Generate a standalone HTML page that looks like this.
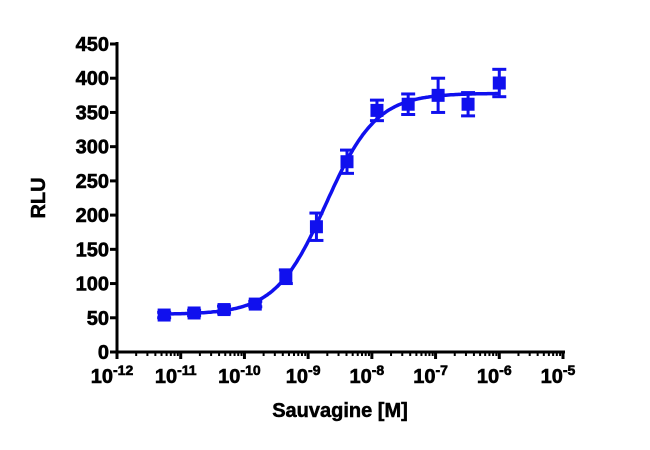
<!DOCTYPE html>
<html><head><meta charset="utf-8"><style>
body{margin:0;background:#fff}
svg{display:block;font-family:"Liberation Sans",Arial,sans-serif;font-weight:bold}
</style></head><body>
<svg id="chart" width="650" height="450" viewBox="0 0 650 450"></svg>
<script>
const logConc=[-11.26,-10.79,-10.32,-9.83,-9.35,-8.87,-8.39,-7.92,-7.43,-6.96,-6.49,-6.0];
const rlu=[54,57,62,70,110,183,278,353,362,375,362,393];
const sem=[4,4,5,4,10,20,17,15,15,25,17,20];
const fitParams=[55,378,-8.72,1.1]; // bottom, top, logEC50, hill
const yTicks=[0,50,100,150,200,250,300,350,400,450];
const xDecades=[-12,-11,-10,-9,-8,-7,-6,-5];
const NS="http://www.w3.org/2000/svg";
const svg=document.getElementById('chart');
const X0=117,X1=563,Y0=352,Y1=44;
const xs=v=>X0+(v+12)/7*(X1-X0);
const ys=v=>Y0-v/450*(Y0-Y1);
function el(t,a,p){const e=document.createElementNS(NS,t);for(const k in a)e.setAttribute(k,a[k]);(p||svg).appendChild(e);return e;}
const blue="#1010ee";
let ax=el('line',{x1:X0,y1:Y1-2,x2:X0,y2:Y0+2,stroke:'#000','stroke-width':3});

let bx=el('line',{x1:X0-2,y1:Y0,x2:X1+2,y2:Y0,stroke:'#000','stroke-width':3});

yTicks.forEach(v=>{
 el('line',{x1:X0-7,y1:ys(v),x2:X0,y2:ys(v),stroke:'#000','stroke-width':3});
 const t=el('text',{x:X0-8,y:ys(v)+7,'text-anchor':'end','font-size':20,'stroke':'#000','stroke-width':0.6});
 t.textContent=v;
 
});
xDecades.forEach((d,i)=>{
 el('line',{x1:xs(d),y1:Y0,x2:xs(d),y2:Y0+7,stroke:'#000','stroke-width':3});
 if(i<xDecades.length-1)for(let m=2;m<10;m++){const x=xs(d+Math.log10(m));el('line',{x1:x,y1:Y0,x2:x,y2:Y0+4,stroke:'#000','stroke-width':2});}
 const t=el('text',{x:xs(d)-5,y:Y0+31,'text-anchor':'middle','font-size':20,'stroke':'#000','stroke-width':0.6});
 t.innerHTML='10<tspan dy="-8" font-size="14">'+d+'</tspan>';
 
});
let yt=el('text',{x:0,y:0,transform:'translate(45,198) rotate(-90)','text-anchor':'middle','font-size':20,'stroke':'#000','stroke-width':0.5});
yt.textContent='RLU';
let xt=el('text',{x:340,y:417,'text-anchor':'middle','font-size':20,'stroke':'#000','stroke-width':0.5});
xt.textContent='Sauvagine [M]';
const [b,tp,ec,h]=fitParams;let d='';
for(let v=logConc[0];v<=logConc[logConc.length-1]+0.001;v+=0.02){const y=b+(tp-b)/(1+Math.pow(10,(ec-v)*h));d+=(d?'L':'M')+xs(v).toFixed(1)+','+ys(y).toFixed(1);}
let c=el('path',{d:d,fill:'none',stroke:blue,'stroke-width':3.5});

logConc.forEach((v,i)=>{
 const g=el('g',{});
 
 const x=xs(v),y=ys(rlu[i]),yh=ys(rlu[i]+sem[i]),yl=ys(rlu[i]-sem[i]);
 el('line',{x1:x,y1:yh,x2:x,y2:yl,stroke:blue,'stroke-width':3},g);
 el('line',{x1:x-7,y1:yh,x2:x+7,y2:yh,stroke:blue,'stroke-width':3},g);
 el('line',{x1:x-7,y1:yl,x2:x+7,y2:yl,stroke:blue,'stroke-width':3},g);
 el('rect',{x:x-6.5,y:y-6.5,width:13,height:13,fill:blue},g);
});
</script>
</body></html>
